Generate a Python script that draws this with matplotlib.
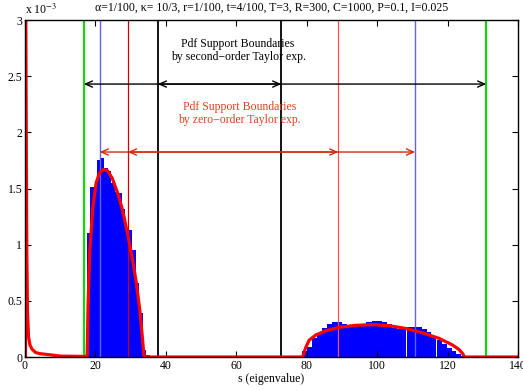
import numpy as np
import matplotlib
matplotlib.use('Agg')
import matplotlib.pyplot as plt

plt.rcParams['font.family'] = ['Liberation Serif', 'DejaVu Serif']
plt.rcParams['mathtext.fontset'] = 'stix'

# histogram of simulated eigenvalues (values x 1e-3)
left_edges = [0.0, 17.5, 18.5, 19.5, 20.5, 21.5, 22.5, 23.5, 24.5, 25.5, 26.5,
              27.5, 28.5, 29.5, 30.5, 31.5, 32.5, 33.5, 34.5]
left_heights = [3.5, 1.10, 1.51, 1.51, 1.75, 1.77, 1.68, 1.66, 1.55, 1.47, 1.46,
                1.32, 1.13, 1.13, 0.95, 0.66, 0.39, 0.06, 0.02]
left_widths = [0.5] + [1.0] * 18

right_centers = [79.3, 80.7, 82.2, 83.6, 85.0, 86.4, 87.8, 89.2, 90.7, 92.1, 93.5,
                 94.9, 96.3, 97.7, 99.2, 100.6, 102.0, 103.4, 104.8, 106.2, 107.6,
                 109.1, 110.5, 111.9, 113.3, 114.7, 116.1, 117.6, 119.0, 120.4,
                 121.8, 123.2, 124.6]
right_heights = [0.05, 0.09, 0.17, 0.21, 0.26, 0.29, 0.31, 0.315, 0.29, 0.28, 0.28,
                 0.285, 0.29, 0.31, 0.32, 0.32, 0.315, 0.29, 0.26, 0.25, 0.26,
                 0.27, 0.27, 0.27, 0.25, 0.22, 0.19, 0.15, 0.12, 0.08,
                 0.05, 0.03, 0.01]

# theoretical pdf (x 1e-3)
pdf_s = [0.0, 0.2, 0.35, 0.5, 0.7, 1.0, 1.4, 2.0, 3.0, 4.2, 7.0, 10.0, 17.4,
         17.65, 17.9, 18.4, 19.3, 20.2, 21.1, 22.3, 23.4, 24.8, 26.3, 27.7, 29.3,
         30.7, 31.6, 32.6, 33.4, 33.8,
         78.8, 79.8, 80.7, 82.6, 85.4, 89.2, 93.9, 98.6, 103.4, 108.0, 112.8,
         117.6, 121.4, 123.2, 124.3, 124.8, 140.0]
pdf_v = [4.0, 3.2, 2.0, 1.0, 0.4, 0.18, 0.107, 0.07, 0.04, 0.03, 0.02, 0.008, 0.005,
         0.0, 0.45, 0.95, 1.34, 1.55, 1.635, 1.67, 1.66, 1.59, 1.46, 1.31, 1.07,
         0.84, 0.66, 0.42, 0.15, 0.0,
         0.0, 0.09, 0.15, 0.196, 0.234, 0.264, 0.282, 0.288, 0.279, 0.255, 0.216,
         0.166, 0.107, 0.068, 0.03, 0.0, 0.0]

# support boundaries
second_order = [16.7, 131.0]
second_order_inner = [37.7, 72.8]
zero_order_outer = [21.2, 110.8]
zero_order_inner = [29.2, 89.0]

fig = plt.figure(figsize=(5.23, 3.9), dpi=100)
ax = fig.add_axes([0.0478, 0.0846, 0.9426, 0.864])

ax.bar(left_edges, left_heights, width=left_widths, align='edge', color='#0000ff',
       edgecolor='none')
ax.bar(right_centers, right_heights, width=1.45, color='#0000ff', edgecolor='none')

ax.axvline(0.15, color='#0000ff', lw=1.5)
ax.axvline(0.35, color='#ff0000', lw=1.5)
for xv in second_order:
    ax.axvline(xv, color='#00e000', lw=1.5)
for xv in second_order_inner:
    ax.axvline(xv, color='black', lw=1.3)
for xv in zero_order_outer:
    ax.axvline(xv, color='#6060ff', lw=1.0)
ax.axvline(zero_order_inner[0], color='#d00000', lw=0.9)
ax.axvline(zero_order_inner[1], color='#ff5050', lw=0.9)

ax.plot(pdf_s, np.array(pdf_v), color='#ff0000', lw=2.3, solid_joinstyle='round')

arrow_k = dict(arrowstyle='<->,head_length=0.5,head_width=0.22', color='black', lw=1.0,
               shrinkA=0, shrinkB=0)
arrow_r = dict(arrowstyle='<->,head_length=0.5,head_width=0.22', color='#d02a10', lw=1.0,
               shrinkA=0, shrinkB=0)
ax.annotate('', xy=(second_order[0], 2.43), xytext=(second_order[1], 2.43), arrowprops=arrow_k)
ax.annotate('', xy=(second_order_inner[0], 2.43), xytext=(second_order_inner[1], 2.43),
            arrowprops=arrow_k)
ax.annotate('', xy=(zero_order_outer[0], 1.825), xytext=(zero_order_outer[1], 1.825),
            arrowprops=arrow_r)
ax.annotate('', xy=(zero_order_inner[0], 1.825), xytext=(zero_order_inner[1], 1.825),
            arrowprops=arrow_r)

ax.text(60.5, 2.73, 'Pdf Support Boundaries\nby second\u2212order Taylor exp.',
        ha='center', va='center', fontsize=8.5, linespacing=1.15)
ax.text(61, 2.17, 'Pdf Support Boundaries\nby zero\u2212order Taylor exp.',
        ha='center', va='center', fontsize=8.5, color='#e04020', linespacing=1.15)

ax.set_xlim(0, 140)
ax.set_ylim(0, 3)
ax.set_xticks(range(0, 141, 20))
ax.set_yticks([0, 0.5, 1, 1.5, 2, 2.5, 3])
ax.set_yticklabels(['0', '0.5', '1', '1.5', '2', '2.5', '3'])
ax.tick_params(direction='in', top=True, right=True, labelsize=8.5, length=4, width=0.8,
               pad=2)
for sp in ax.spines.values():
    sp.set_linewidth(1.0)
ax.set_xlabel('s (eigenvalue)', fontsize=8.5, labelpad=1)
ax.set_title('\u03b1=1/100, \u03ba= 10/3, r=1/100, t=4/100, T=3, R=300, C=1000, P=0.1, I=0.025',
             fontsize=8.5, pad=7)
ax.text(0.0, 1.008, r'x 10$^{-3}$', transform=ax.transAxes, fontsize=8.5,
        ha='left', va='bottom')

fig.savefig('out.png', dpi=100)
